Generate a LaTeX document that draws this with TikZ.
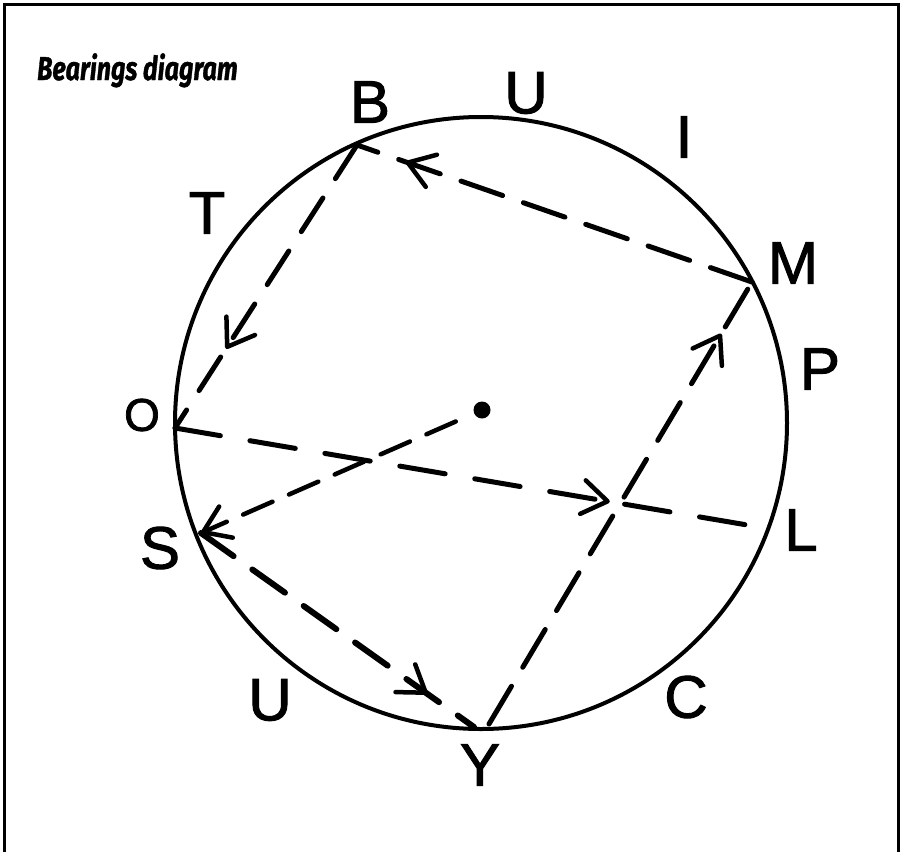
\documentclass[tikz,border=0pt]{standalone}
\usepackage{fontspec}
\setmainfont{Liberation Sans}
\newfontfamily\handfont[FakeBold=1.6]{Liberation Sans}
\newfontfamily\titlefont[BoldItalicFeatures={FakeBold=1.3}]{Fira Sans}
\usetikzlibrary{arrows.meta,decorations.markings}
\tikzset{mybarb/.tip={Straight Barb[length=25pt,width=34pt,line width=4.5pt,round]}}
\begin{document}
\begin{tikzpicture}[x=1pt,y=-1pt,
  lbl/.style={font=\handfont\fontsize{60}{60}\selectfont, inner sep=0pt},
  dsh/.style={line width=5pt, dash pattern=on 44pt off 22pt, line cap=round},
  midarrow/.style={postaction={decorate}, decoration={markings,
     mark=at position #1 with {\pgfsetdash{}{0pt}\arrow{mybarb}}}},
]
\useasboundingbox (0,0) rectangle (900,852);
% frame (open at the bottom)
\draw[line width=3pt] (4,852) -- (4,4) -- (898,4) -- (898,852);
% title
\node[anchor=base west, inner sep=0pt] (title) at (37,80)
  {\scalebox{0.76}[1]{\titlefont\bfseries\itshape\fontsize{33}{33}\selectfont Bearings diagram}};
% circle
\node[circle, draw, line width=4pt, minimum size=612pt, inner sep=0pt] (ring) at (481,423) {};
\node[circle, fill, inner sep=0pt, minimum size=17pt] (ctr) at (482,410) {};
% points on the circle
\coordinate (B) at (357,145);
\coordinate (M) at (752,282);
\coordinate (O) at (175,428);
\coordinate (S) at (201,533);
\coordinate (Ya) at (474,727);
\coordinate (Yb) at (489,724);
\coordinate (L) at (765,528);
% connectors
\draw[dsh, dash pattern=on 40pt off 23pt, midarrow=0.72] (B) -- (O);
\draw[dsh, midarrow=0.877] (M) -- (B);
\draw[dsh, dash pattern=on 46pt off 30pt, midarrow=0.737] (O) -- (L);
\draw[dsh, line width=4.5pt, dash pattern=on 32pt off 18pt, shorten <=20pt, -{mybarb}] (ctr) -- (S);
\draw[dsh, line width=6pt, dash pattern=on 40pt off 23pt, midarrow=0.83] (S) -- (Ya);
\draw[dsh, midarrow=0.883] (Yb) -- (M);
% letters
\node[lbl] (lB) at (370,102) {B};
\node[lbl] (lU1) at (526,93) {U};
\node[lbl] (lI) at (684,137) {I};
\node[lbl] (lT) at (207,213) {T};
\node[lbl] (lM) at (793,263) {M};
\node[lbl] (lP) at (820,369) {P};
\node[lbl, font=\handfont\fontsize{46}{46}\selectfont] (lO) at (142,415) {O};
\node[lbl] (lS) at (160,548) {S};
\node[lbl] (lL) at (801,530) {L};
\node[lbl] (lU2) at (270,700) {U};
\node[lbl] (lC) at (686,697) {C};
\node[lbl] (lY) at (480,765) {Y};
\end{tikzpicture}
\end{document}
